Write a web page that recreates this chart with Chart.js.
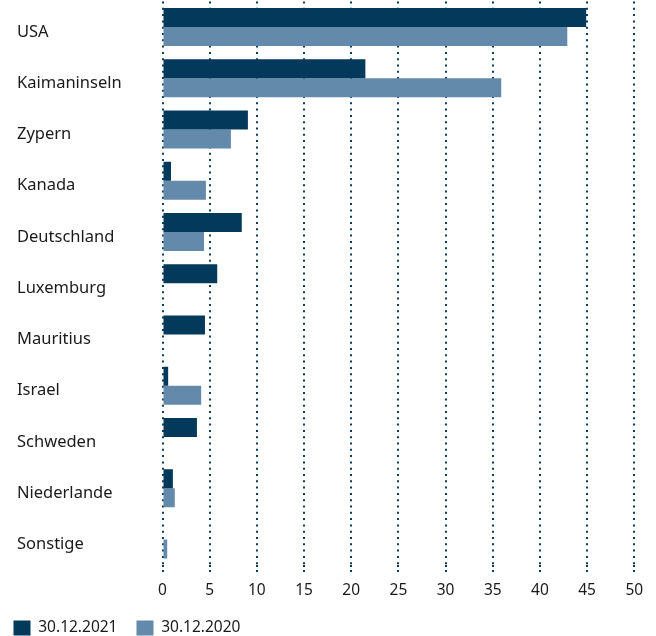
<!DOCTYPE html>
<html>
<head>
<meta charset="utf-8">
<script src="https://cdn.jsdelivr.net/npm/chart.js@4/dist/chart.umd.min.js"></script>
<style>
  html, body { margin: 0; padding: 0; background: #ffffff; }
  #wrap { width: 656px; height: 636px; position: relative; }
</style>
</head>
<body>
<div id="wrap"><canvas id="c" width="656" height="636"></canvas></div>
<script>
const categories = ["USA", "Kaimaninseln", "Zypern", "Kanada", "Deutschland", "Luxemburg", "Mauritius", "Israel", "Schweden", "Niederlande", "Sonstige"];
const values2021 = [44.9, 21.5, 9.05, 0.9, 8.4, 5.8, 4.5, 0.6, 3.65, 1.1, null];
const values2020 = [42.9, 35.9, 7.25, 4.6, 4.4, null, null, 4.1, null, 1.3, 0.5];
const xTicks = [0, 5, 10, 15, 20, 25, 30, 35, 40, 45, 50];
const seriesLabels = ["30.12.2021", "30.12.2020"];

const DARK = "#03395a";
const LIGHT = "#648aab";
const GRID = "#0d3b5c";
const TEXT = "#1a1a1a";
const FONT = "'Noto Sans', sans-serif";

const legendNudge = {
  id: "legendNudge",
  afterLayout(chart) {
    chart.legend.left -= 22.5;
  }
};

new Chart(document.getElementById("c"), {
  type: "bar",
  data: {
    labels: categories,
    datasets: [
      { label: seriesLabels[0], data: values2021, backgroundColor: DARK, borderWidth: 0,
        categoryPercentage: 0.742, barPercentage: 1 },
      { label: seriesLabels[1], data: values2020, backgroundColor: LIGHT, borderWidth: 0,
        categoryPercentage: 0.742, barPercentage: 1 }
    ]
  },
  options: {
    indexAxis: "y",
    responsive: false,
    animation: false,
    devicePixelRatio: 1,
    layout: { padding: { left: 17, right: 21.7, top: 1.5, bottom: -9.75 } },
    scales: {
      x: {
        type: "linear",
        min: 0,
        max: 50,
        z: 1,
        afterBuildTicks(scale) { scale.ticks = xTicks.map(v => ({ value: v })); },
        afterFit(scale) { scale.height = 36.25; },
        grid: {
          display: true,
          color: GRID,
          lineWidth: 2,
          drawTicks: true,
          tickLength: 9,
          tickColor: GRID,
          tickWidth: 2,
          tickBorderDash: [2, 3]
        },
        border: { display: false, dash: [2, 4.3] },
        ticks: {
          color: TEXT,
          font: { family: FONT, size: 15.5 },
          padding: 7.45,
          maxRotation: 0,
          autoSkip: false
        }
      },
      y: {
        type: "category",
        grid: { display: false, drawTicks: false },
        border: { display: false },
        afterFit(scale) { scale.width = 145.5; scale.paddingTop = 0; scale.paddingBottom = 0; },
        ticks: {
          crossAlign: "far",
          color: TEXT,
          font: { family: FONT, size: 16.5 },
          labelOffset: 5,
          autoSkip: false
        }
      }
    },
    plugins: {
      legend: {
        position: "bottom",
        align: "start",
        labels: {
          boxWidth: 17,
          boxHeight: 15,
          padding: 19,
          color: TEXT,
          font: { family: FONT, size: 15.5 }
        }
      },
      tooltip: { enabled: false },
      title: { display: false }
    }
  },
  plugins: [legendNudge]
});
</script>
</body>
</html>
